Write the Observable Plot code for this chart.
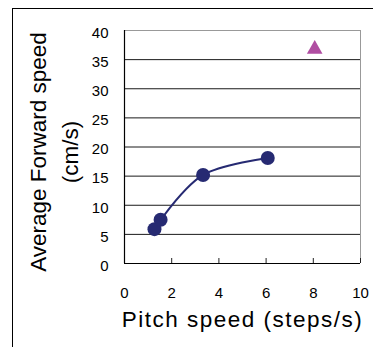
<!DOCTYPE html>
<html><head><meta charset="utf-8">
<script src="https://cdn.jsdelivr.net/npm/d3@7"></script>
<script src="https://cdn.jsdelivr.net/npm/@observablehq/plot@0.6"></script>
<style>
html,body{margin:0;padding:0;background:#fff;}
#wrap{position:relative;width:373px;height:347px;overflow:hidden;}
#border{position:absolute;left:12px;top:8px;width:420px;height:420px;border-top:1.5px solid #000;border-left:1.5px solid #000;pointer-events:none;}
</style></head><body>
<div id="wrap"><div id="chart"></div><div id="border"></div></div>
<script>
const pitchSpeed = [1.27, 1.53, 3.33, 6.07];
const forwardSpeed = [5.9, 7.5, 15.2, 18.1];
const outlierX = [8.06];
const outlierY = [36.8];
const xTicks = [0, 2, 4, 6, 8, 10];
const yTicks = [0, 5, 10, 15, 20, 25, 30, 35, 40];
const xLabel = ["Pitch speed (steps/s)"];
const yLabel1 = ["Average Forward speed"];
const yLabel2 = ["(cm/s)"];

const pts = pitchSpeed.map((x, i) => ({x, y: forwardSpeed[i]}));
const outl = outlierX.map((x, i) => ({x, y: outlierY[i]}));
const yMin = yTicks[0], yMax = yTicks[yTicks.length - 1];
const xMin = xTicks[0], xMax = xTicks[xTicks.length - 1];

const chart = Plot.plot({
  width: 373,
  height: 347,
  marginLeft: 124,
  marginRight: 13,
  marginTop: 30,
  marginBottom: 84,
  style: {fontFamily: "'Liberation Sans', Arial, sans-serif", background: "#fff", color: "#000"},
  x: {domain: [xMin, xMax]},
  y: {domain: [yMin, yMax]},
  marks: [
    Plot.ruleY(yTicks.slice(1, -1), {stroke: "#1a1a1a", strokeWidth: 1}),
    Plot.ruleY([yMax], {stroke: "#999", strokeWidth: 1}),
    Plot.ruleX([xMax], {stroke: "#999", strokeWidth: 1}),
    Plot.ruleX(xTicks.slice(1), {x: d => d, y1: yMin, y2: yMin, insetTop: -5, stroke: "#222", strokeWidth: 1}),
    Plot.ruleY([yMin], {stroke: "#000", strokeWidth: 1.2}),
    Plot.ruleX([xMin], {stroke: "#000", strokeWidth: 1.2}),
    Plot.axisY({ticks: yTicks, tickSize: 0, tickPadding: 16, fontSize: 15, dy: 2.5, label: null}),
    Plot.axisX({ticks: xTicks, tickSize: 0, tickPadding: 24, fontSize: 15, label: null}),
    Plot.line(pts, {x: "x", y: "y", curve: "catmull-rom", stroke: "#262a72", strokeWidth: 2}),
    Plot.dot(pts, {x: "x", y: "y", r: 7, fill: "#262a72", stroke: "none"}),
    Plot.dot(outl, {x: "x", y: "y", r: 5.8, symbol: "triangle", fill: "#b04ea2", stroke: "none"}),
    Plot.text(xLabel, {text: d => d, frameAnchor: "bottom", textAnchor: "middle", dy: 63, fontSize: 22.5, fill: "#000"}),
    Plot.text(yLabel1, {text: d => d, frameAnchor: "left", textAnchor: "middle", rotate: -90, dx: -85.5, dy: 5, fontSize: 22.5, fill: "#000"}),
    Plot.text(yLabel2, {text: d => d, frameAnchor: "left", textAnchor: "middle", rotate: -90, dx: -54, dy: 5, fontSize: 22.5, fill: "#000"})
  ]
});
document.getElementById("chart").appendChild(chart);
d3.select(chart).selectAll("text").filter(function(){ return this.textContent === xLabel[0]; }).attr("letter-spacing", "1.5px");
</script>
</body></html>
